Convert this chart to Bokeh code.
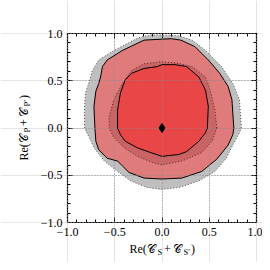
import math
from bokeh.plotting import figure
from bokeh.models import (LinearAxis, SingleIntervalTicker, CustomJSTickFormatter, Label, Range1d, Grid)
from bokeh.embed import file_html
from bokeh.resources import INLINE

# ---- data ----
# outer grey region (dotted border)
grey_outer_x = [0.84, 0.82, 0.75, 0.63, 0.46, 0.32, 0.18, 0.00, -0.12, -0.25, -0.51, -0.67, -0.74, -0.77, -0.81, -0.82, -0.82,
                -0.77, -0.72, -0.61, -0.47, -0.33, -0.16, 0.00, 0.18, 0.39, 0.56, 0.68, 0.75, 0.82]
grey_outer_y = [0.00, 0.30, 0.47, 0.65, 0.82, 0.93, 0.975, 0.985, 0.985, 0.955, 0.82, 0.72, 0.60, 0.49, 0.37, 0.23, 0.00,
                -0.10, -0.21, -0.35, -0.46, -0.56, -0.63, -0.65, -0.63, -0.56, -0.46, -0.32, -0.18, -0.05]
# outer red region (solid border)
red_outer_x = [0.76, 0.74, 0.70, 0.61, 0.49, 0.35, 0.20, 0.10, 0.00, -0.19, -0.42, -0.58, -0.63, -0.65, -0.67, -0.70, -0.72, -0.71,
               -0.70, -0.67, -0.58, -0.47, -0.42, -0.35, -0.19, 0.00, 0.21, 0.42, 0.58, 0.70, 0.75]
red_outer_y = [0.00, 0.30, 0.44, 0.58, 0.72, 0.86, 0.93, 0.945, 0.94, 0.93, 0.82, 0.72, 0.65, 0.54, 0.47, 0.39, 0.23, 0.00,
               -0.14, -0.23, -0.32, -0.35, -0.40, -0.47, -0.53, -0.54, -0.53, -0.46, -0.33, -0.18, -0.07]
# inner grey region (dotted border)
grey_inner_x = [0.58, 0.56, 0.51, 0.46, 0.32, 0.15, -0.02, -0.19, -0.32, -0.42, -0.51, -0.56, -0.56,
                -0.51, -0.40, -0.26, -0.09, 0.00, 0.21, 0.42, 0.53]
grey_inner_y = [0.00, 0.19, 0.40, 0.54, 0.65, 0.69, 0.70, 0.68, 0.61, 0.47, 0.30, 0.12, 0.00,
                -0.10, -0.21, -0.30, -0.37, -0.39, -0.35, -0.26, -0.14]
# inner red region (solid border)
red_inner_x = [0.48, 0.49, 0.46, 0.39, 0.26, 0.14, 0.00, -0.05, -0.19, -0.32, -0.39, -0.44, -0.47, -0.47,
               -0.44, -0.39, -0.26, -0.12, 0.00, 0.18, 0.26, 0.39, 0.46]
red_inner_y = [0.00, 0.23, 0.40, 0.54, 0.65, 0.67, 0.67, 0.65, 0.63, 0.58, 0.51, 0.37, 0.19, 0.00,
               -0.07, -0.14, -0.21, -0.26, -0.30, -0.28, -0.25, -0.14, -0.05]
best_x = [0.0]
best_y = [0.0]
axis_lo, axis_hi = -1.0, 1.0

FONT = "Liberation Serif"

# page geometry: the plotting box spans page px 67..256 (x) and 33..222 (y)
CX, CY, S = 161.5, 127.5, 94.5     # page px of data (0,0), px per data unit
W = H = 262
PAGE0 = 0
x_range = Range1d((PAGE0 - CX) / S, (PAGE0 + W - CX) / S)
y_range = Range1d((CY - (PAGE0 + H)) / S, (CY - PAGE0) / S)

p = figure(width=W, height=H, output_backend="svg", toolbar_location=None,
           x_range=x_range, y_range=y_range,
           x_axis_location=None, y_axis_location=None, min_border=0)
p.background_fill_color = "white"
p.border_fill_color = "white"
p.outline_line_color = None

fmt = CustomJSTickFormatter(code="return (tick < -1e-9 ? '\\u2212' : '') + Math.abs(tick).toFixed(1);")
blank = CustomJSTickFormatter(code="return '';")

def make_axis(show, loc):
    ax = LinearAxis(ticker=SingleIntervalTicker(interval=0.5, num_minor_ticks=5),
                    formatter=fmt if show else blank, fixed_location=loc, bounds=(axis_lo, axis_hi))
    ax.major_tick_in = 5
    ax.major_tick_out = 0
    ax.minor_tick_in = 3
    ax.minor_tick_out = 0
    ax.axis_line_color = "black"
    ax.axis_line_width = 1.2
    ax.major_tick_line_color = "black"
    ax.minor_tick_line_color = "black"
    ax.major_label_text_font = FONT
    ax.major_label_text_font_size = "12px"
    ax.major_label_text_color = "black"
    ax.major_label_standoff = 5 if show else 0
    return ax

p.add_layout(make_axis(True, axis_lo), "below")
p.add_layout(make_axis(True, axis_lo), "left")
p.add_layout(make_axis(False, axis_hi), "above")
p.add_layout(make_axis(False, axis_hi), "right")

for dim in (0, 1):
    g = Grid(dimension=dim, ticker=SingleIntervalTicker(interval=0.5),
             bounds=(axis_lo, axis_hi), cross_bounds=(axis_lo, axis_hi))
    g.grid_line_color = "#8a8a8a"
    g.grid_line_dash = "1 2"
    g.grid_line_width = 1
    g.level = "guide"
    p.add_layout(g)

p.patch(grey_outer_x, grey_outer_y, fill_color="#bfbfbf", line_color="#555555", line_dash="1 2", line_width=1)
p.patch(red_outer_x, red_outer_y, fill_color="#e07b7b", line_color="black", line_width=1)
p.patch(grey_inner_x, grey_inner_y, fill_color="#ca6363", line_color="#4a2a2a", line_dash="1 2", line_width=1)
p.patch(red_inner_x, red_inner_y, fill_color="#e94747", line_color="black", line_width=1)
p.scatter(best_x, best_y, marker="diamond", size=9, fill_color="black", line_color="black", level="overlay")

# ---- axis titles composed of pieces (main text + subscripts) ----
pieces = [("Re(", 129.0, False), ("\U0001D49E", 146.5, False), ("S", 157.0, True), ("+", 163.5, False),
          ("\U0001D49E", 172.5, False), ("S\u2032", 183.0, True), (")", 190.5, False)]
for txt, px, sub in pieces:
    base = 251.0 if sub else 248.0
    p.add_layout(Label(x=(px - CX) / S, y=(CY - base) / S, text=txt, text_font=FONT,
                       text_font_size="8.5px" if sub else "12px", text_align="left",
                       text_baseline="alphabetic", text_color="black"))
for txt, px, sub in pieces:
    if txt.startswith("S"):
        txt = "P" + txt[1:]
    py = CY + (CX - px)
    bx = 26.5 if sub else 23.5
    p.add_layout(Label(x=(bx - CX) / S, y=(CY - py) / S, text=txt, text_font=FONT,
                       text_font_size="8.5px" if sub else "12px", text_align="left",
                       text_baseline="alphabetic", text_color="black", angle=math.pi / 2))

open("out.html", "w").write(file_html(p, INLINE))
